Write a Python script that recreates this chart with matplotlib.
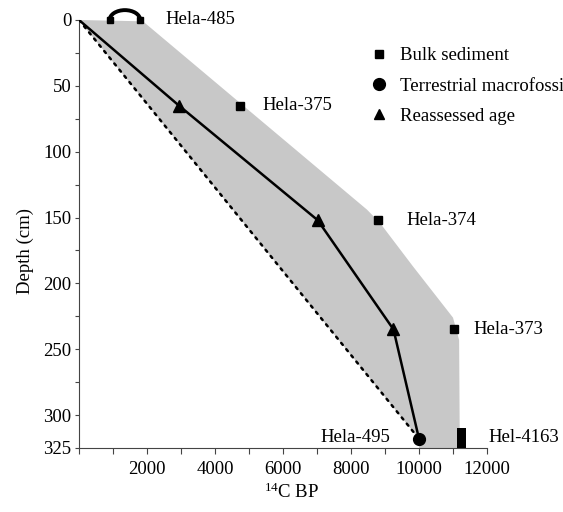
import matplotlib.pyplot as plt
from matplotlib.patches import Arc
from matplotlib.lines import Line2D

plt.rcParams['font.family'] = ['Liberation Serif', 'DejaVu Serif']
plt.rcParams['mathtext.fontset'] = 'custom'
plt.rcParams['mathtext.rm'] = 'Liberation Serif'

# bulk sediment dates (14C BP) and depths (cm)
bulk_names = ['Hela-375', 'Hela-374', 'Hela-373']
bulk_age = [4750, 8780, 11030]
bulk_depth = [65, 152, 235]

# Hela-485: surface sample given as an age range
top_name = 'Hela-485'
top_range = [900, 1800]
top_depth = 0

# Hel-4163: basal bulk sample spanning a depth interval
base_name = 'Hel-4163'
base_age = 11240
base_depth = [310, 325]

# terrestrial macrofossil
macro_name = 'Hela-495'
macro_age = [10000]
macro_depth = [318]

# reassessed age-depth model
model_age = [0, 2940, 7020, 9250, 10000]
model_depth = [0, 65, 152, 235, 318]

# shaded uncertainty envelope
env_age = [0, 1880, 8470, 8850, 9820, 11000, 11180, 11200, 10000, 10000]
env_depth = [0, 1, 144, 154, 187, 226, 243, 325, 325, 318]

FS = 13.5

fig = plt.figure(figsize=(5.63, 5.12), dpi=100)
ax = fig.add_axes([79 / 563, 64 / 512, 408 / 563, 428 / 512])

ax.fill(env_age, env_depth, color='#c8c8c8', lw=0, zorder=1)
ax.plot([model_age[0], macro_age[0]], [model_depth[0], macro_depth[0]],
        color='black', ls=(0, (1, 2.2)), lw=1.8, dash_capstyle='round', zorder=2)
ax.plot(model_age, model_depth, color='black', lw=1.8, zorder=3)
ax.plot(model_age[1:-1], model_depth[1:-1], '^', color='black', ms=8.5, zorder=4)
ax.plot(macro_age, macro_depth, 'o', color='black', ms=8.5, zorder=4)
ax.plot(bulk_age, bulk_depth, 's', color='black', ms=6, zorder=4)

# bracket for the Hela-485 range
mid = (top_range[0] + top_range[1]) / 2
ax.add_patch(Arc((mid, top_depth), top_range[1] - top_range[0], 15, theta1=180, theta2=360,
                 color='black', lw=2.8, clip_on=False, zorder=4))
ax.plot(top_range, [top_depth, top_depth], 's', color='black', ms=5, clip_on=False, zorder=5)

ax.bar(base_age, base_depth[1] - base_depth[0], width=270, bottom=base_depth[0],
       color='black', zorder=4)

lab = dict(fontsize=FS, va='center', textcoords='offset points')
ax.annotate(top_name, (top_range[1], top_depth), xytext=(18, 0), annotation_clip=False, **lab)
offs = [16, 21, 14]
for name, a, d, o in zip(bulk_names, bulk_age, bulk_depth, offs):
    ax.annotate(name, (a, d), xytext=(o, 0), **lab)
ax.annotate(macro_name, (macro_age[0], macro_depth[0]), xytext=(-21, 1), ha='right', **lab)
ax.annotate(base_name, (base_age, 318), xytext=(20, 1), **lab)

handles = [Line2D([], [], ls='', marker='s', color='black', ms=5.5),
           Line2D([], [], ls='', marker='o', color='black', ms=8.5),
           Line2D([], [], ls='', marker='^', color='black', ms=7)]
fig.legend(handles, ['Bulk sediment', 'Terrestrial macrofossil', 'Reassessed age'],
           loc='upper left', bbox_to_anchor=(360.5 / 563, 1 - 38 / 512), frameon=False,
           fontsize=FS, borderpad=0, handlelength=1.0, handletextpad=0.6,
           labelspacing=0.7)

ax.set_xlim(0, 12000)
ax.set_ylim(325, 0)
ax.set_xticks(range(0, 13000, 1000))
ax.set_xticklabels(['' if (v == 0 or v % 2000) else str(v) for v in range(0, 13000, 1000)])
yt = list(range(0, 326, 25))
ax.set_yticks(yt)
ax.set_yticklabels([str(v) if (v % 50 == 0 or v == 325) else '' for v in yt])
ax.tick_params(axis='x', length=4, width=0.8, pad=5, labelsize=FS, color='#444444')
ax.tick_params(axis='y', length=3, width=0.8, pad=2.5, labelsize=FS, color='#444444')

for s in ['top', 'right']:
    ax.spines[s].set_visible(False)
for s in ['left', 'bottom']:
    ax.spines[s].set_color('#444444')
    ax.spines[s].set_linewidth(0.8)

ax.set_xlabel(r'$\mathregular{^{14}}$C BP', fontsize=FS)
ax.xaxis.set_label_coords((292 - 79) / 408, -0.082)
ax.set_ylabel('Depth (cm)', fontsize=FS)
ax.yaxis.set_label_coords(-0.11, 0.46)

fig.savefig('out.png', dpi=100)
